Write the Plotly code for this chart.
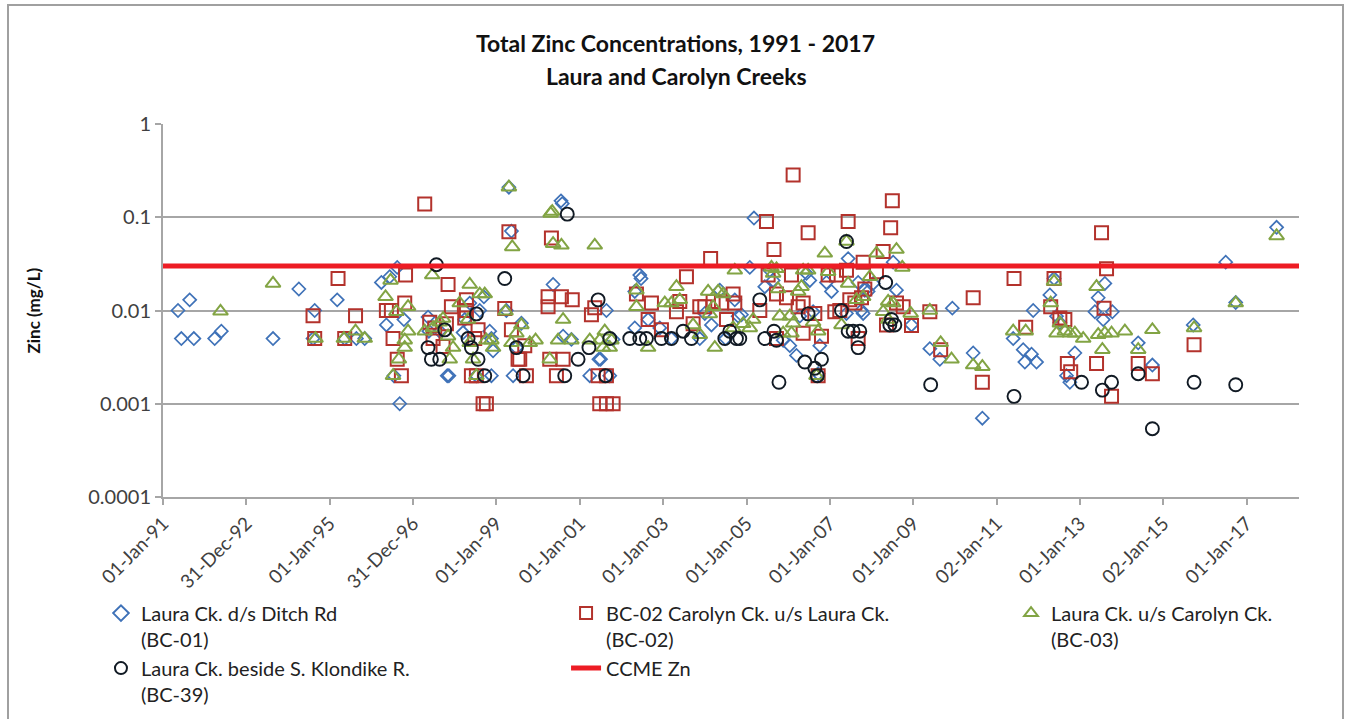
import pandas as pd
import plotly.graph_objects as go

# ---------------- data ----------------
TICK_LABELS = ["01-Jan-91", "31-Dec-92", "01-Jan-95", "31-Dec-96", "01-Jan-99",
               "01-Jan-01", "01-Jan-03", "01-Jan-05", "01-Jan-07", "01-Jan-09",
               "02-Jan-11", "01-Jan-13", "02-Jan-15", "01-Jan-17"]
Y_TICKS = [0.0001, 0.001, 0.01, 0.1, 1]
Y_TICK_LABELS = ["0.0001", "0.001", "0.01", "0.1", "1"]
X_RANGE = ["1991-01-01", "2018-04-05"]
CCME_ZN = 0.03

# sampling dates as decimal years, zinc in mg/L
BC01_YEAR = [1991.36, 1991.44, 1991.64, 1991.74, 1992.24, 1992.40, 1993.64, 1994.26, 1994.64, 1994.60,
             1995.18, 1995.36, 1995.64, 1995.84, 1996.24, 1996.44, 1996.62, 1996.36, 1996.78, 1996.54,
             1996.68, 1997.36, 1997.38, 1997.64, 1997.82, 1997.86, 1998.20, 1998.24, 1998.36, 1998.52,
             1998.60, 1998.70, 1998.84, 1998.88, 1998.88, 1998.92, 1999.24, 1999.30, 1999.36, 1999.40,
             1999.48, 1999.60, 2000.36, 2000.55, 2000.58, 2000.60, 2000.80, 2001.24, 2001.46, 2001.50,
             2001.64, 2001.72, 2001.80, 2002.32, 2002.32, 2002.44, 2002.47, 2002.64, 2002.92, 2003.20,
             2003.88, 2004.00, 2004.16, 2004.36, 2004.50, 2004.72, 2004.80, 2004.88, 2005.08, 2005.18,
             2005.44, 2005.56, 2005.64, 2005.88, 2006.04, 2006.20, 2006.28, 2006.44, 2006.52, 2006.60,
             2006.72, 2006.76, 2006.92, 2007.04, 2007.40, 2007.44, 2007.68, 2007.76, 2007.80, 2007.84,
             2007.92, 2008.04, 2008.52, 2008.60, 2008.96, 2009.40, 2009.64, 2009.94, 2010.44, 2010.66,
             2011.40, 2011.64, 2011.68, 2011.84, 2011.88, 2011.96, 2012.28, 2012.38, 2012.44, 2012.52,
             2012.68, 2012.76, 2012.88, 2013.36, 2013.44, 2013.56, 2013.60, 2013.78, 2014.40, 2014.74,
             2015.72, 2016.50, 2016.74, 2017.72]
BC01_ZN = [0.01, 0.005, 0.013, 0.005, 0.005, 0.006, 0.005, 0.017, 0.01, 0.005,
           0.013, 0.005, 0.005, 0.005, 0.02, 0.023, 0.029, 0.007, 0.008, 0.002,
           0.001, 0.0085, 0.006, 0.006, 0.002, 0.002, 0.0058, 0.008, 0.012, 0.002,
           0.01, 0.014, 0.006, 0.005, 0.002, 0.0037, 0.01, 0.21, 0.071, 0.002,
           0.004, 0.0073, 0.019, 0.15, 0.14, 0.0053, 0.0049, 0.002, 0.003, 0.003,
           0.01, 0.002, 0.0049, 0.016, 0.0065, 0.024, 0.022, 0.008, 0.0065, 0.005,
           0.005, 0.0093, 0.007, 0.0165, 0.005, 0.013, 0.0087, 0.009, 0.029, 0.098,
           0.018, 0.027, 0.021, 0.0048, 0.0042, 0.0033, 0.0087, 0.025, 0.021, 0.0097,
           0.0021, 0.0042, 0.02, 0.016, 0.0093, 0.036, 0.02, 0.01, 0.0093, 0.0165,
           0.016, 0.0195, 0.033, 0.0165, 0.007, 0.0039, 0.003, 0.0106, 0.0035, 0.0007,
           0.005, 0.0038, 0.0028, 0.0034, 0.01, 0.0028, 0.0147, 0.022, 0.0087, 0.0074,
           0.002, 0.0017, 0.0035, 0.0097, 0.0137, 0.008, 0.0195, 0.0097, 0.0045, 0.0026,
           0.007, 0.033, 0.0122, 0.078]

BC02_YEAR = [1994.60, 1994.64, 1995.20, 1995.36, 1995.62, 1996.36, 1996.48, 1996.52, 1996.62, 1996.72,
             1996.80, 1996.82, 1997.28, 1997.40, 1997.48, 1997.52, 1997.72, 1997.80, 1997.84, 1997.92,
             1998.24, 1998.28, 1998.28, 1998.40, 1998.48, 1998.52, 1998.56, 1998.68, 1998.76, 1999.20,
             1999.30, 1999.36, 1999.52, 1999.56, 1999.68, 1999.72, 2000.24, 2000.24, 2000.28, 2000.32,
             2000.44, 2000.56, 2000.60, 2000.82, 2001.28, 2001.36, 2001.44, 2001.48, 2001.64, 2001.64,
             2001.80, 2002.36, 2002.64, 2002.72, 2002.96, 2003.32, 2003.40, 2003.56, 2003.72, 2003.88,
             2004.00, 2004.14, 2004.20, 2004.40, 2004.52, 2004.68, 2004.72, 2005.32, 2005.48, 2005.52,
             2005.66, 2005.72, 2005.72, 2005.96, 2006.08, 2006.12, 2006.24, 2006.36, 2006.36, 2006.48,
             2006.64, 2006.72, 2006.80, 2006.96, 2007.12, 2007.16, 2007.24, 2007.40, 2007.44, 2007.48,
             2007.60, 2007.68, 2007.76, 2007.80, 2007.84, 2008.12, 2008.28, 2008.36, 2008.46, 2008.50,
             2008.60, 2008.76, 2008.96, 2009.40, 2009.66, 2010.44, 2010.66, 2011.42, 2011.70, 2012.30,
             2012.38, 2012.52, 2012.64, 2012.70, 2012.78, 2013.40, 2013.52, 2013.58, 2013.64, 2013.76,
             2014.40, 2014.74, 2015.74]
BC02_ZN = [0.0088, 0.005, 0.022, 0.005, 0.0088, 0.01, 0.01, 0.005, 0.003, 0.002,
           0.012, 0.024, 0.139, 0.0075, 0.005, 0.0065, 0.0041, 0.0072, 0.019, 0.011,
           0.0083, 0.013, 0.01, 0.002, 0.005, 0.002, 0.0062, 0.001, 0.001, 0.0105,
           0.07, 0.0062, 0.003, 0.003, 0.0042, 0.002, 0.014, 0.011, 0.003, 0.06,
           0.002, 0.014, 0.003, 0.013, 0.009, 0.0107, 0.002, 0.001, 0.002, 0.001,
           0.001, 0.015, 0.008, 0.012, 0.0062, 0.0097, 0.0125, 0.023, 0.0072, 0.011,
           0.011, 0.036, 0.0125, 0.012, 0.008, 0.015, 0.012, 0.01, 0.09, 0.024,
           0.045, 0.015, 0.005, 0.0137, 0.024, 0.284, 0.011, 0.012, 0.0057, 0.068,
           0.0093, 0.002, 0.0053, 0.024, 0.0097, 0.024, 0.01, 0.027, 0.09, 0.013,
           0.012, 0.005, 0.0137, 0.033, 0.017, 0.026, 0.043, 0.007, 0.077, 0.15,
           0.012, 0.011, 0.0069, 0.0097, 0.0038, 0.0137, 0.0017, 0.022, 0.0066, 0.011,
           0.022, 0.0083, 0.008, 0.0027, 0.0022, 0.0027, 0.068, 0.0106, 0.028, 0.0012,
           0.0027, 0.0021, 0.0043]

BC03_YEAR = [1992.38, 1993.64, 1994.66, 1995.34, 1995.62, 1995.84, 1996.34, 1996.46, 1996.52, 1996.60,
             1996.66, 1996.80, 1996.80, 1996.88, 1996.88, 1997.28, 1997.46, 1997.48, 1997.64, 1997.72,
             1997.84, 1997.88, 1997.96, 1998.12, 1998.32, 1998.36, 1998.36, 1998.44, 1998.52, 1998.60,
             1998.72, 1998.76, 1998.88, 1998.92, 1999.22, 1999.30, 1999.36, 1999.38, 1999.48, 1999.60,
             1999.80, 1999.94, 2000.28, 2000.30, 2000.34, 2000.36, 2000.48, 2000.56, 2000.60, 2000.80,
             2001.24, 2001.36, 2001.48, 2001.56, 2001.60, 2001.72, 2001.76, 2002.36, 2002.36, 2002.64,
             2003.04, 2003.20, 2003.32, 2003.40, 2003.72, 2003.88, 2004.08, 2004.12, 2004.20, 2004.24,
             2004.32, 2004.44, 2004.68, 2004.72, 2004.92, 2005.08, 2005.16, 2005.60, 2005.64, 2005.72,
             2005.76, 2005.80, 2005.88, 2006.04, 2006.08, 2006.12, 2006.24, 2006.32, 2006.36, 2006.48,
             2006.60, 2006.68, 2006.72, 2006.88, 2006.96, 2007.28, 2007.40, 2007.44, 2007.64, 2007.80,
             2007.96, 2008.12, 2008.28, 2008.40, 2008.40, 2008.52, 2008.60, 2008.74, 2008.94, 2009.40,
             2009.66, 2009.92, 2010.44, 2010.66, 2011.40, 2011.70, 2012.30, 2012.38, 2012.44, 2012.52,
             2012.64, 2012.76, 2012.88, 2013.08, 2013.40, 2013.44, 2013.54, 2013.60, 2013.76, 2014.08,
             2014.40, 2014.74, 2015.74, 2016.74, 2017.72]
BC03_ZN = [0.0098, 0.0195, 0.005, 0.005, 0.006, 0.005, 0.014, 0.021, 0.002, 0.0097,
           0.003, 0.0048, 0.004, 0.011, 0.006, 0.006, 0.024, 0.0065, 0.0075, 0.0082,
           0.0053, 0.003, 0.004, 0.012, 0.008, 0.019, 0.0045, 0.003, 0.002, 0.015,
           0.015, 0.0048, 0.0048, 0.004, 0.0098, 0.21, 0.0045, 0.048, 0.0057, 0.007,
           0.0045, 0.0048, 0.003, 0.11, 0.115, 0.052, 0.0048, 0.05, 0.008, 0.0048,
           0.0048, 0.05, 0.0048, 0.004, 0.006, 0.004, 0.0048, 0.0165, 0.011, 0.004,
           0.012, 0.012, 0.018, 0.013, 0.007, 0.0055, 0.016, 0.0092, 0.011, 0.004,
           0.016, 0.015, 0.0065, 0.027, 0.0072, 0.0065, 0.008, 0.029, 0.025, 0.028,
           0.017, 0.0087, 0.0057, 0.0087, 0.0057, 0.0073, 0.016, 0.018, 0.027, 0.027,
           0.0075, 0.002, 0.006, 0.041, 0.026, 0.007, 0.055, 0.0195, 0.013, 0.014,
           0.023, 0.041, 0.0097, 0.0125, 0.008, 0.012, 0.045, 0.029, 0.0093, 0.01,
           0.0045, 0.003, 0.0026, 0.0025, 0.006, 0.006, 0.012, 0.0205, 0.0057, 0.0073,
           0.006, 0.0057, 0.0057, 0.005, 0.018, 0.0055, 0.0038, 0.0057, 0.0057, 0.006,
           0.0038, 0.0062, 0.0065, 0.012, 0.063]

BC39_YEAR = [1997.36, 1997.44, 1997.56, 1997.64, 1997.76, 1998.32, 1998.40, 1998.52, 1998.56, 1998.72,
             1999.20, 1999.48, 1999.64, 2000.64, 2000.70, 2000.96, 2001.22, 2001.44, 2001.62, 2001.72,
             2002.20, 2002.44, 2002.60, 2002.96, 2003.20, 2003.48, 2003.68, 2004.48, 2004.60, 2004.76,
             2004.84, 2005.32, 2005.44, 2005.66, 2005.72, 2005.78, 2006.40, 2006.48, 2006.64, 2006.70,
             2006.80, 2007.28, 2007.40, 2007.44, 2007.56, 2007.68, 2007.72, 2008.34, 2008.44, 2008.48,
             2008.56, 2009.42, 2011.42, 2013.04, 2013.54, 2013.76, 2014.40, 2014.74, 2015.74, 2016.74]
BC39_ZN = [0.004, 0.003, 0.031, 0.003, 0.0062, 0.005, 0.004, 0.0092, 0.003, 0.002,
           0.022, 0.004, 0.002, 0.002, 0.108, 0.003, 0.004, 0.013, 0.002, 0.005,
           0.005, 0.005, 0.005, 0.005, 0.005, 0.006, 0.005, 0.005, 0.006, 0.005,
           0.005, 0.013, 0.005, 0.006, 0.0048, 0.0017, 0.0028, 0.0092, 0.0024, 0.002,
           0.003, 0.01, 0.055, 0.006, 0.006, 0.004, 0.006, 0.02, 0.007, 0.008,
           0.007, 0.0016, 0.0012, 0.0017, 0.0014, 0.0017, 0.0021, 0.00054, 0.0017, 0.0016]

SERIES = [
    ("Laura Ck. d/s Ditch Rd<br>(BC-01)", BC01_YEAR, BC01_ZN, "diamond-open", "#3F72B8", 10, 1.7, "legend"),
    ("BC-02 Carolyn Ck. u/s Laura Ck.<br>(BC-02)", BC02_YEAR, BC02_ZN, "square-open", "#B3322C", 13, 2.0, "legend2"),
    ("Laura Ck. u/s Carolyn Ck.<br>(BC-03)", BC03_YEAR, BC03_ZN, "triangle-up-open", "#82A444", 13, 2.0, "legend3"),
    ("Laura Ck. beside S. Klondike R.<br>(BC-39)", BC39_YEAR, BC39_ZN, "circle-open", "#111A24", 13, 1.9, "legend"),
]


def to_dates(years):
    base = pd.Timestamp("1991-01-01")
    return [base + pd.Timedelta(days=(y - 1991) * 365.25) for y in years]


tick_dates = list(pd.to_datetime(TICK_LABELS, format="%d-%b-%y"))

fig = go.Figure()
for name, yrs, vals, sym, col, size, lw, lg in SERIES:
    fig.add_trace(go.Scatter(
        x=to_dates(yrs), y=vals, mode="markers", name=name, legend=lg,
        marker=dict(symbol=sym, color=col, size=size, line=dict(color=col, width=lw)),
    ))

fig.add_trace(go.Scatter(
    x=[pd.Timestamp(X_RANGE[0]), pd.Timestamp(X_RANGE[1])], y=[CCME_ZN, CCME_ZN],
    mode="lines", name="CCME Zn", legend="legend2",
    line=dict(color="#ED1C24", width=5),
))

axis_grey = "#A6A6A6"
leg_common = dict(yanchor="top", xanchor="left", orientation="v", valign="top",
                  font=dict(family="Lato, sans-serif", size=20, color="#222222"),
                  bgcolor="rgba(0,0,0,0)", tracegroupgap=0, itemsizing="constant")

fig.update_layout(
    width=1351, height=719,
    margin=dict(l=163, r=52, t=124, b=222, autoexpand=False),
    paper_bgcolor="white", plot_bgcolor="white",
    font=dict(family="Lato, sans-serif", size=19, color="#404040"),
    title=dict(text="<b>Total Zinc Concentrations, 1991 - 2017</b>",
               x=0.5, xref="container", xanchor="center",
               y=1 - 44 / 719, yref="container", yanchor="middle",
               font=dict(family="Lato, sans-serif", size=23, color="#111111")),
    xaxis=dict(type="date", range=X_RANGE, tickvals=tick_dates, ticktext=TICK_LABELS,
               tickangle=-45, showgrid=False, zeroline=False,
               showline=True, linecolor=axis_grey, linewidth=2,
               ticks="outside", ticklen=6, tickwidth=2, tickcolor=axis_grey,
               tickfont=dict(size=19, color="#404040")),
    yaxis=dict(type="log", range=[-4, 0], tickvals=Y_TICKS, ticktext=Y_TICK_LABELS,
               showgrid=True, gridcolor=axis_grey, gridwidth=2, zeroline=False,
               showline=True, linecolor=axis_grey, linewidth=2,
               ticks="outside", ticklen=6, tickwidth=2, tickcolor=axis_grey,
               tickfont=dict(size=20, color="#404040")),
    legend=dict(x=-0.0546, y=-0.259, **leg_common),
    legend2=dict(x=0.3548, y=-0.259, **leg_common),
    legend3=dict(x=0.7465, y=-0.259, **leg_common),
    annotations=[
        dict(text="<b>Laura and Carolyn Creeks</b>", xref="paper", yref="paper",
             x=(676 - 163) / 1136, y=(497 - 76) / 373, xanchor="center", yanchor="middle",
             showarrow=False,
             font=dict(family="Lato, sans-serif", size=23, color="#111111")),
        dict(text="<b>Zinc (mg/L)</b>", xref="paper", yref="paper",
             x=(33 - 163) / 1136, y=0.5, xanchor="center", yanchor="middle", showarrow=False,
             textangle=-90, font=dict(family="Lato, sans-serif", size=17, color="#111111")),
    ],
    shapes=[dict(type="rect", xref="paper", yref="paper",
                 x0=(8 - 163) / 1136, x1=(1343 - 163) / 1136,
                 y0=(497 - 730) / 373, y1=(497 - 5) / 373,
                 line=dict(color="#A0A0A0", width=2), fillcolor="rgba(0,0,0,0)", layer="below")],
)

fig.write_html("out.html", config={"displayModeBar": False},
               post_script="document.body.style.margin='0px';document.body.style.overflow='hidden';")
